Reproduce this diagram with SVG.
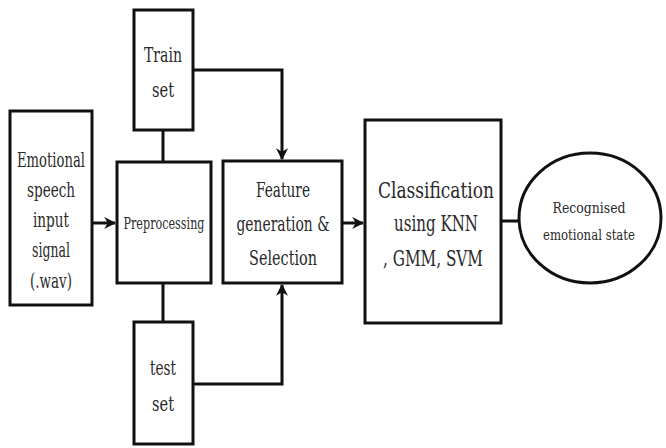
<svg xmlns="http://www.w3.org/2000/svg" width="666" height="448" viewBox="0 0 666 448">
<defs>
<marker id="ah" viewBox="0 0 10 10" refX="9" refY="5" markerWidth="4" markerHeight="4" orient="auto" markerUnits="strokeWidth">
<path d="M0,0 L10,5 L0,10 L3,5 Z" fill="#111"/>
</marker>
<style>
.box{fill:#fff;stroke:#111;stroke-width:3}
.ln{fill:none;stroke:#111;stroke-width:3}
text{font-family:'DejaVu Serif',serif;fill:#2a2a2a;text-anchor:middle}
</style>
</defs>
<rect width="666" height="448" fill="#fff"/>
<g id="connectors">
<line class="ln" x1="93" y1="223" x2="115" y2="223" marker-end="url(#ah)"/>
<line class="ln" x1="163" y1="130" x2="163" y2="162"/>
<line class="ln" x1="163" y1="283" x2="163" y2="322"/>
<polyline class="ln" points="193,70 282,70 282,159" marker-end="url(#ah)"/>
<polyline class="ln" points="193,384 282,384 282,285" marker-end="url(#ah)"/>
<line class="ln" x1="342" y1="223" x2="363" y2="223" marker-end="url(#ah)"/>
<line class="ln" x1="501" y1="221" x2="519" y2="221"/>
</g>
<g id="input">
<rect class="box" x="10" y="111" width="82" height="194"/>
<text font-size="20" x="51" y="167" textLength="68" lengthAdjust="spacingAndGlyphs">Emotional</text>
<text font-size="20" x="51" y="197" textLength="48" lengthAdjust="spacingAndGlyphs">speech</text>
<text font-size="20" x="51" y="227" textLength="36" lengthAdjust="spacingAndGlyphs">input</text>
<text font-size="20" x="51" y="257" textLength="38" lengthAdjust="spacingAndGlyphs">signal</text>
<text font-size="20" x="51" y="288" textLength="42" lengthAdjust="spacingAndGlyphs">(.wav)</text>
</g>
<g id="train">
<rect class="box" x="134" y="10" width="59" height="120"/>
<text font-size="20" x="163" y="62" textLength="38" lengthAdjust="spacingAndGlyphs">Train</text>
<text font-size="20" x="163" y="97" textLength="22" lengthAdjust="spacingAndGlyphs">set</text>
</g>
<g id="preprocessing">
<rect class="box" x="117" y="162" width="94" height="121"/>
<text font-size="17" x="164" y="229" textLength="81" lengthAdjust="spacingAndGlyphs">Preprocessing</text>
</g>
<g id="test">
<rect class="box" x="134" y="322" width="59" height="122"/>
<text font-size="20" x="163" y="375" textLength="26" lengthAdjust="spacingAndGlyphs">test</text>
<text font-size="20" x="163" y="411" textLength="22" lengthAdjust="spacingAndGlyphs">set</text>
</g>
<g id="feature">
<rect class="box" x="223" y="161" width="119" height="122"/>
<text font-size="21" x="283" y="197" textLength="54" lengthAdjust="spacingAndGlyphs">Feature</text>
<text font-size="21" x="283" y="231" textLength="93" lengthAdjust="spacingAndGlyphs">generation &amp;</text>
<text font-size="21" x="283" y="265" textLength="68" lengthAdjust="spacingAndGlyphs">Selection</text>
</g>
<g id="classification">
<rect class="box" x="365" y="120" width="136" height="203"/>
<text font-size="22" x="436" y="198" textLength="116" lengthAdjust="spacingAndGlyphs">Classification</text>
<text font-size="22" x="436" y="231" textLength="84" lengthAdjust="spacingAndGlyphs">using KNN</text>
<text font-size="22" x="433" y="266" textLength="100" lengthAdjust="spacingAndGlyphs">, GMM, SVM</text>
</g>
<g id="recognised">
<ellipse class="box" cx="590" cy="218" rx="71" ry="65"/>
<text font-size="15" x="589" y="213" textLength="73" lengthAdjust="spacingAndGlyphs">Recognised</text>
<text font-size="15" x="589" y="240" textLength="92" lengthAdjust="spacingAndGlyphs">emotional state</text>
</g>
</svg>
